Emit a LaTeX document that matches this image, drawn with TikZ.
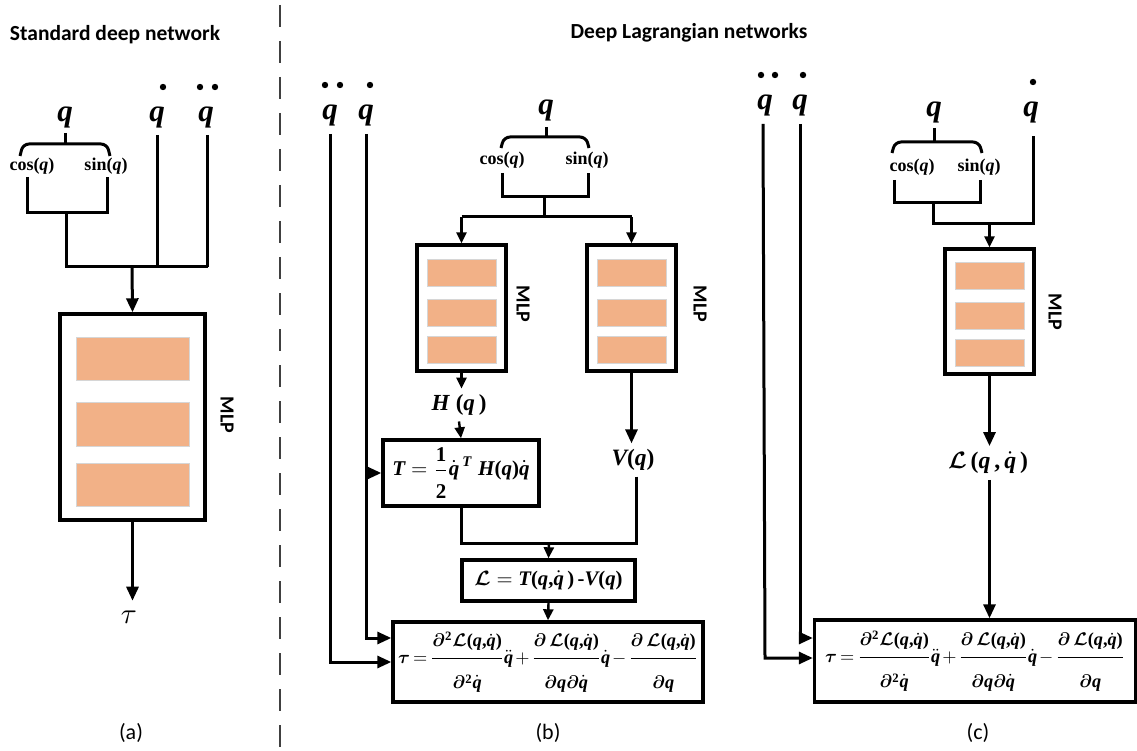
\documentclass[tikz,border=0pt]{standalone}
\usepackage{fontspec}
\usepackage{amsmath}
\usepackage{bm}
\setmainfont{Liberation Serif}
\newfontfamily\calfont{Carlito}
\usetikzlibrary{arrows.meta,calc}

\definecolor{barfill}{RGB}{242,177,135}
\definecolor{barline}{RGB}{214,214,214}
\definecolor{sepgray}{RGB}{64,64,64}

% bold italic / bold upright symbols in math
\newcommand\vbi[1]{\text{\bfseries\itshape #1}}
\newcommand\vbu[1]{\text{\bfseries #1}}
\newcommand\Lag{\bm{\mathcal{L}}}
\newcommand\Lqq{\Lag\vbu{(}\vbi{q}\vbu{,}\dot{\vbi{q}}\vbu{)}}
% struts that open up the fraction gaps
\newcommand\numgap{\rule[-5pt]{0pt}{5pt}}
\newcommand\dengap{\rule{0pt}{15pt}}
% torque equation of the Lagrangian model
\newcommand\torqueeq{\resizebox{300pt}{!}{\medmuskip=2mu\thickmuskip=3mu$\displaystyle \bm{\tau}=\frac{\numgap\bm{\partial}^{\vbu{2}}\Lqq}{\dengap\bm{\partial}^{\vbu{2}}\dot{\vbi{q}}}\ddot{\vbi{q}}
   +\frac{\numgap\bm{\partial}\;\Lqq}{\dengap\bm{\partial}\vbi{q}\bm{\partial}\dot{\vbi{q}}}\dot{\vbi{q}}
   -\frac{\numgap\bm{\partial}\;\Lqq}{\dengap\bm{\partial}\vbi{q}}$}}

% MLP block: name, centre x, top y, width, height, bar width, bar offsets
\newcommand\mlpblock[7]{%
  \node[box,minimum width=#4pt,minimum height=#5pt] (#1) at (#2,#3+#5/2) {};
  \foreach \ta/\tb in {#7}
    \draw[bar] (#2-#6/2,#3+\ta) rectangle (#2+#6/2,#3+\tb);
}

\tikzset{
  x=1pt, y=-1pt,
  wire/.style={line width=3pt},
  arr/.style={wire,-{Triangle[length=14pt,width=12pt]}},
  sarr/.style={line width=2.4pt,-{Triangle[length=11pt,width=10pt]}},
  box/.style={draw,line width=3.4pt,inner sep=0pt},
  bar/.style={fill=barfill,draw=barline,line width=0.8pt},
  mlplabel/.style={font=\calfont\bfseries\fontsize{20}{20}\selectfont,rotate=-90,inner sep=0pt},
  var/.style={font=\bfseries\itshape\fontsize{31}{31}\selectfont,inner sep=0pt},
  trig/.style={font=\bfseries\fontsize{18}{20}\selectfont,inner sep=0pt},
  lbl/.style={inner sep=0pt,outer sep=6pt},
  title/.style={font=\calfont\bfseries\fontsize{21.5}{24}\selectfont,inner sep=0pt},
  caption/.style={font=\calfont\fontsize{22}{24}\selectfont,inner sep=0pt},
  brace/.style={wire,rounded corners=6pt},
  sep/.style={line width=2pt,sepgray,dash pattern=on 22pt off 14pt},
  dotmark/.style={fill=black},
}

\begin{document}
\begin{tikzpicture}
\useasboundingbox (0,0) rectangle (1137,751);

% separator between the two families of models
\draw[sep] (280,5) -- (280,751);

% ---------------- (a) standard deep network ----------------
\node[title] (ta) at (115,35) {Standard deep network};
\node[var] (aq) at (65,117) {q};
\node[var] (aqd) at (157,117) {q};
\fill[dotmark] (163,87) circle (3.2);
\node[var] (aqdd) at (206,117) {q};
\fill[dotmark] (200,87) circle (3.2);
\fill[dotmark] (215,87) circle (3.2);

\coordinate (abr) at (65,144);
\draw[wire] (65,133) -- (abr);
\draw[brace] (20,156) -- (23,144) -- (107,144) -- (110,156);
\node[trig] (acos) at (32,166) {cos(\textit{q})};
\node[trig] (asin) at (106,166) {sin(\textit{q})};
\draw[wire] (27,177) -- (27,213) -- (107,213) -- (107,177);
\coordinate (aj) at (132,267);
\draw[wire] (66,213) -- (66,267) -- (208,267);
\draw[wire] (aqd.south |- 0,135) -- (aqd.south |- aj);
\draw[wire] (207,135) -- (207,267);

\mlpblock{amlp}{132.5}{314}{145}{206}{113}{23/66,88/132,149/192}
\node[mlplabel] (amlpl) at (227,415) {MLP};
\draw[arr] (aj) -- (amlp.north);
\node[inner sep=0pt] (atau) at (129,617) {\resizebox{16pt}{!}{$\tau$}};
\draw[arr] (amlp.south) -- ++(0,79);
\node[caption] (capa) at (131,733) {(a)};

% ---------------- (b) Lagrangian network, two MLPs ----------------
\node[title] (tb) at (689,33) {Deep Lagrangian networks};
\node[var] (bqdd) at (330,115) {q};
\fill[dotmark] (325,85) circle (3.2);
\fill[dotmark] (340,85) circle (3.2);
\node[var] (bqd) at (366,115) {q};
\fill[dotmark] (370,85) circle (3.2);
\node[var] (bq) at (546,110) {q};

\draw[wire] (546,127) -- (546,137);
\draw[brace] (501,148) -- (504,137) -- (586,137) -- (589,148);
\node[trig] (bcos) at (502,160) {cos(\textit{q})};
\node[trig] (bsin) at (587,160) {sin(\textit{q})};
\draw[wire] (502,173) -- (502,197) -- (588,197) -- (588,173);
\coordinate (bj1) at (544,217);
\draw[wire] (544,197) -- (bj1);

\mlpblock{bml}{461.5}{245}{89}{126}{69}{14/41,54/81,91/118}
\mlpblock{bmr}{631.5}{245}{89}{126}{69}{14/41,54/81,91/118}
\node[mlplabel] (bmll) at (523,304) {MLP};
\node[mlplabel] (bmrl) at (700,304) {MLP};
\draw[wire] (bml.north |- bj1) -- (bmr.north |- bj1);
\draw[sarr] (bml.north |- bj1) -- (bml.north);
\draw[sarr] (bmr.north |- bj1) -- (bmr.north);

\node[lbl] (bH) at (459,405) {\resizebox{55pt}{!}{$\vbi{H}\;\vbu{(}\vbi{q}\,\vbu{)}$}};
\node[lbl] (bV) at (633,460) {\resizebox{43pt}{!}{$\vbi{V}\vbu{(}\vbi{q}\vbu{)}$}};
\draw[sarr] (bml.south) -- (bml.south |- bH.north);

\node[box,minimum width=156pt,minimum height=66pt] (bT) at (461,473)
  {\resizebox{137pt}{!}{$\displaystyle \vbi{T}=\frac{\rule[-3pt]{0pt}{3pt}\vbu{1}}{\rule{0pt}{12pt}\vbu{2}}\dot{\vbi{q}}^{\,\vbi{T}}\;\vbi{H}\vbu{(}\vbi{q}\vbu{)}\dot{\vbi{q}}$}};
\draw[sarr] (bH.south) -- (bT.north);
\draw[arr] (bmr.south) -- (bmr.south |- bV.north);

\coordinate (bj2) at (549,543);
\draw[wire] (bT.south) |- (bj2);
\draw[wire] ([xshift=3pt]bV.south) |- (bj2);

\node[box,minimum width=173pt,minimum height=41pt] (bL) at (548.5,580.5)
  {\resizebox{148pt}{!}{$\Lag=\vbi{T}\vbu{(}\vbi{q}\vbu{,}\dot{\vbi{q}}\,\vbu{)}\,\text{\bfseries -}\vbi{V}\vbu{(}\vbi{q}\vbu{)}$}};
\draw[sarr] (bj2) -- (bL.north);

\node[box,minimum width=310pt,minimum height=80pt] (btau) at (548,662) {\torqueeq};
\draw[sarr] (bL.south) -- (btau.north);

\coordinate (bin1) at ([yshift=24pt]btau.west);
\coordinate (bin2) at (btau.west);
\draw[arr] ([yshift=-8pt]bqd.south) |- (bin1);
\draw[arr] (bqd.south |- bT.west) -- (bT.west);
\draw[arr] ([yshift=-8pt]bqdd.south) |- (bin2);
\node[caption] (capb) at (548,733) {(b)};

% ---------------- (c) Lagrangian network, one MLP ----------------
\node[var] (cqdd) at (765,105) {q};
\fill[dotmark] (761,75) circle (3.2);
\fill[dotmark] (775,75) circle (3.2);
\node[var] (cqd) at (800,105) {q};
\fill[dotmark] (803,75) circle (3.2);
\node[var] (cq) at (934,112) {q};
\node[var] (cqd2) at (1031,112) {q};
\fill[dotmark] (1033,82) circle (3.2);

\draw[wire] (934,128) -- (934,142);
\draw[brace] (892,153) -- (895,142) -- (979,142) -- (982,153);
\node[trig] (ccos) at (912,167) {cos(\textit{q})};
\node[trig] (csin) at (979,167) {sin(\textit{q})};
\draw[wire] (894,180) -- (894,203) -- (980,203) -- (980,180);
\coordinate (cj) at (1033,224);
\draw[wire] (933,203) -- (933,224) -- (cj) -- (1033,136);

\mlpblock{cmlp}{989.5}{249}{89}{125}{69}{13/40,53/80,90/117}
\node[mlplabel] (cmlpl) at (1055,312) {MLP};
\draw[sarr] (cmlp.north |- cj) -- (cmlp.north);

\node[lbl] (cL) at (988,463) {\resizebox{80pt}{!}{$\Lag\,\vbu{(}\vbi{q}\,\vbu{,}\,\dot{\vbi{q}}\,\vbu{)}$}};
\draw[arr] (cmlp.south) -- (cmlp.south |- cL.north);

\node[box,minimum width=321pt,minimum height=82pt] (ctau) at (975,661) {\torqueeq};
\draw[arr] (cmlp.south |- cL.south) -- (cmlp.south |- ctau.north);

\coordinate (cin1) at ([yshift=23pt]ctau.west);
\coordinate (cin2) at ([yshift=3pt]ctau.west);
\draw[arr] ([yshift=-8pt]cqd.south) |- (cin1);
\draw[arr] ([xshift=-2pt,yshift=-8pt]cqdd.south) -- (cqdd.south |- cin2) -- (cin2);
\node[caption] (capc) at (978,733) {(c)};
\end{tikzpicture}
\end{document}
